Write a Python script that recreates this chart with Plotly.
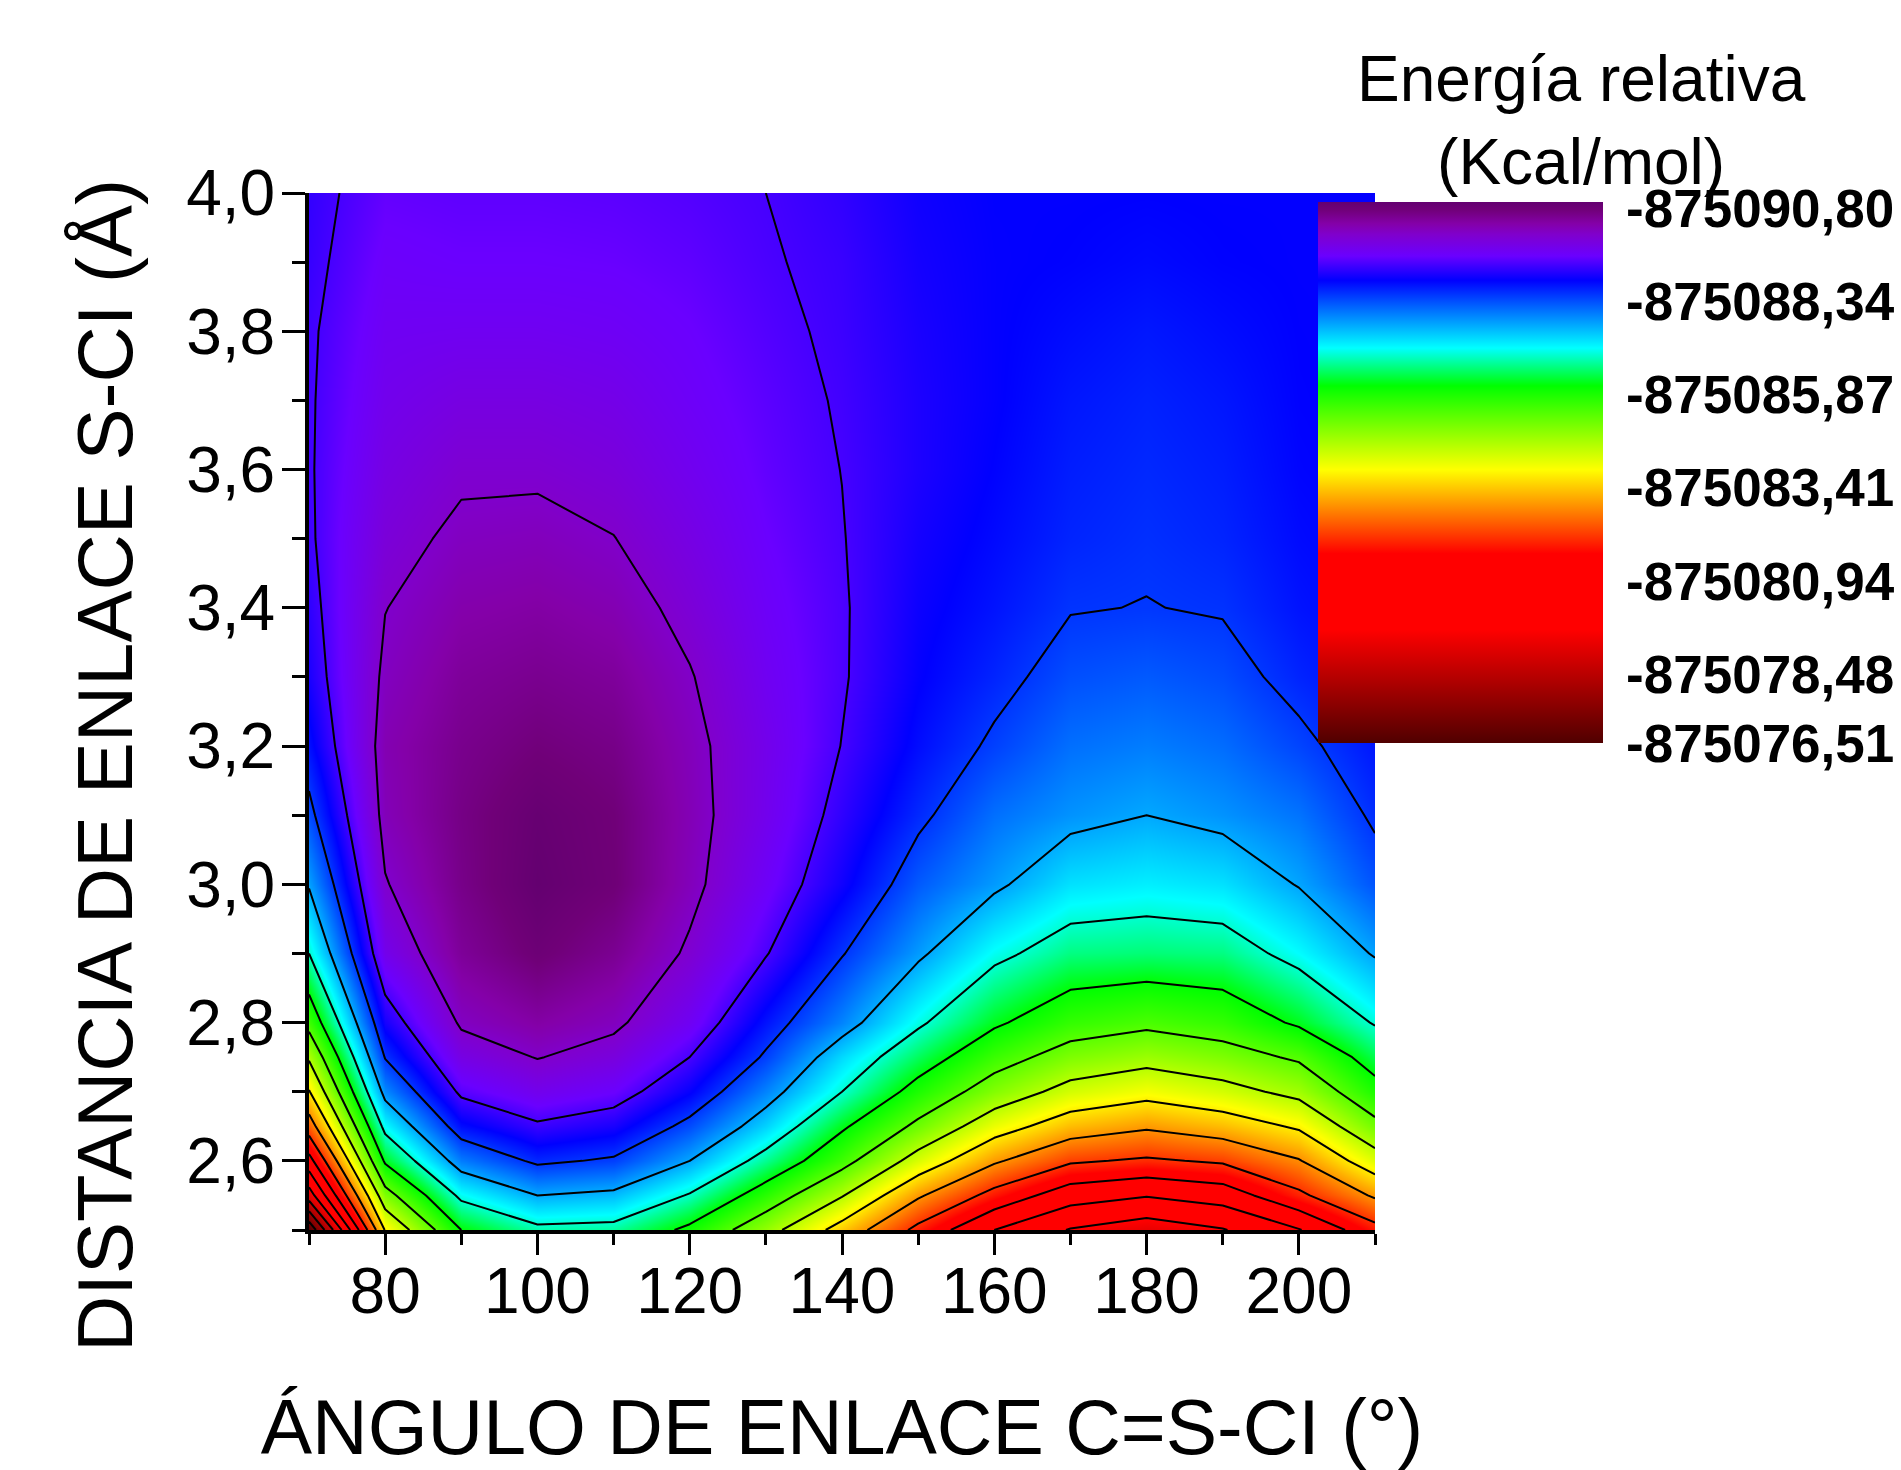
import plotly.graph_objects as go

# Axes of the grid
angles = [70, 80, 90, 100, 110, 120, 130, 140, 150, 160, 170, 180, 190, 200, 210]
distances = [2.5, 2.55, 2.6, 2.65, 2.7, 2.75, 2.8, 2.9, 3.0, 3.1, 3.2, 3.3, 3.4, 3.5, 3.6, 3.7, 3.8, 3.9, 4.0]

# Energy above the minimum (kcal/mol), one list per angle
e_70 = [14.29, 11.65, 9.95, 8.45, 7.3, 6.35, 5.4, 4.05, 3.2, 2.6, 2.17, 1.92, 1.8, 1.71, 1.69, 1.69, 1.7, 1.745, 1.77]
e_80 = [7.2, 5.95, 4.75, 3.85, 3.05, 2.42, 1.95, 1.2, .88, .7, .65, .76, .86, 1.0, 1.12, 1.22, 1.3, 1.38, 1.47]
e_90 = [4.85, 3.9, 2.95, 2.15, 1.55, 1.12, .78, .45, .33, .3, .36, .46, .6, .76, .92, 1.1, 1.28, 1.42, 1.5]
e_100 = [4.2, 3.25, 2.35, 1.72, 1.22, .83, .55, .15, 0, .05, .22, .38, .54, .72, .92, 1.1, 1.28, 1.42, 1.5]
e_110 = [4.25, 3.38, 2.52, 1.92, 1.42, 1.05, .75, .4, .18, .2, .32, .47, .65, .84, 1.02, 1.17, 1.32, 1.44, 1.52]
e_120 = [5.0, 4.1, 3.25, 2.6, 2.05, 1.65, 1.3, .92, .72, .68, .72, .82, .98, 1.12, 1.25, 1.35, 1.42, 1.5, 1.57]
e_130 = [6.15, 5.2, 4.3, 3.55, 3.0, 2.52, 2.2, 1.62, 1.35, 1.22, 1.2, 1.28, 1.35, 1.42, 1.48, 1.52, 1.57, 1.62, 1.65]
e_140 = [7.55, 6.4, 5.4, 4.75, 4.05, 3.6, 3.0, 2.42, 1.98, 1.79, 1.66, 1.61, 1.61, 1.634, 1.655, 1.68, 1.71, 1.73, 1.78]
e_150 = [9.05, 7.95, 6.75, 5.8, 5.1, 4.5, 3.95, 3.15, 2.7, 2.35, 2.15, 2.05, 2.0, 1.95, 1.9, 1.9, 1.92, 1.95, 1.98]
e_160 = [10.45, 9.1, 7.95, 6.9, 6.0, 5.35, 4.75, 3.9, 3.15, 2.85, 2.52, 2.32, 2.2, 2.13, 2.08, 2.05, 2.05, 2.05, 2.06]
e_170 = [11.3, 10.1, 8.75, 7.65, 6.7, 5.95, 5.3, 4.35, 3.65, 3.1, 2.85, 2.62, 2.43, 2.32, 2.27, 2.22, 2.15, 2.08, 2.06]
e_180 = [11.7, 10.4, 8.95, 7.95, 7.0, 6.2, 5.5, 4.4, 3.75, 3.25, 2.95, 2.7, 2.46, 2.4, 2.35, 2.3, 2.23, 2.13, 2.07]
e_190 = [11.3, 10.1, 8.75, 7.65, 6.7, 5.95, 5.3, 4.35, 3.65, 3.1, 2.83, 2.6, 2.42, 2.32, 2.27, 2.22, 2.15, 2.08, 2.06]
e_200 = [10.5, 9.0, 8.1, 7.15, 6.25, 5.55, 4.75, 3.85, 3.22, 2.88, 2.55, 2.32, 2.2, 2.14, 2.1, 2.08, 2.07, 2.06, 2.06]
e_210 = [9.1, 7.95, 6.8, 5.85, 5.1, 4.55, 4.0, 3.2, 2.65, 2.38, 2.22, 2.12, 2.08, 2.06, 2.05, 2.05, 2.05, 2.05, 2.05]
columns = [e_70, e_80, e_90, e_100, e_110, e_120, e_130, e_140, e_150, e_160, e_170, e_180, e_190, e_200, e_210]

# Colour bar labels (magnitude of the total energy)
bar_values = [875090.80, 875088.34, 875085.87, 875083.41, 875080.94, 875078.48, 875076.51]
bar_labels = ["-875090,80", "-875088,34", "-875085,87", "-875083,41", "-875080,94", "-875078,48", "-875076,51"]

TOP = 875090.80
SPAN = 14.29
LABEL_NUDGE = 0.16  # labels sit a little below their value in the reference
BOTTOM = TOP - SPAN
z = [[TOP - columns[c][r] for c in range(len(angles))] for r in range(len(distances))]

# e/SPAN position of each colour, from the colour bar (top of bar = 0)
stops = [(0.0, "#640070"), (0.014, "#700078"), (0.027, "#7a0090"), (0.04, "#8400a8"), (0.06, "#8000cc"),
         (0.10, "#6a00ff"), (0.145, "#0000ff"), (0.27, "#00ffff"),
         (0.34, "#00ff00"), (0.495, "#ffff00"), (0.65, "#ff0000"), (0.79, "#ff0000"), (1.0, "#500000")]
colorscale = sorted((1 - p, c) for p, c in stops)

W, H = 1901, 1470
L, R, T, B = 309, 1375, 193, 1230
px = lambda v: (v - L) / (R - L)
py = lambda v: (B - v) / (B - T)

fill = go.Contour(
    x=angles, y=distances, z=z, zmin=BOTTOM, zmax=TOP, colorscale=colorscale,
    contours=dict(coloring="heatmap", showlines=False, start=TOP - 13.65, end=TOP - 0.85, size=0.8),
    line=dict(width=0),
    colorbar=dict(
        x=px(1318), xanchor="left", xpad=0, y=py(202), yanchor="top", ypad=0,
        len=541, lenmode="pixels", thickness=285, thicknessmode="pixels",
        tickmode="array", tickvals=[max(v - LABEL_NUDGE, BOTTOM + 0.001) for v in bar_values], ticktext=bar_labels,
        ticks="outside", ticklen=13, tickcolor="rgba(0,0,0,0)",
        tickfont=dict(family="Liberation Sans", size=53, color="black", weight="bold"),
        outlinewidth=0, borderwidth=0,
    ),
)
lines = go.Contour(
    x=angles, y=distances, z=z, showscale=False,
    contours=dict(coloring="none", start=TOP - 13.65, end=TOP - 0.85, size=0.8),
    line=dict(color="black", width=2, smoothing=0),
)

fig = go.Figure([fill, lines])
font = "Liberation Sans"
fig.update_layout(
    width=W, height=H, autosize=False,
    margin=dict(l=L, r=W - R, t=T, b=H - B, autoexpand=False),
    paper_bgcolor="white", plot_bgcolor="white", separators=",.",
    font=dict(family=font, color="black"),
    showlegend=False,
    xaxis=dict(
        range=[70, 210], tick0=80, dtick=20, ticks="outside", ticklen=21, tickwidth=3,
        tickcolor="black", showline=True, linewidth=4, linecolor="black", showgrid=False, zeroline=False,
        tickfont=dict(size=64), ticklabelstandoff=-19,
        minor=dict(tick0=70, dtick=10, ticks="outside", ticklen=11, tickwidth=3, tickcolor="black", showgrid=False),
        title=dict(text="ÁNGULO DE ENLACE C=S-CI (°)", font=dict(size=77), standoff=78),
    ),
    yaxis=dict(
        range=[2.5, 4.0], tick0=2.6, dtick=0.2, tickformat=".1f", ticks="outside", ticklen=23, tickwidth=3,
        tickcolor="black", showline=True, linewidth=4, linecolor="black", showgrid=False, zeroline=False,
        tickfont=dict(size=64), ticklabelstandoff=-6,
        minor=dict(tick0=2.5, dtick=0.1, ticks="outside", ticklen=13, tickwidth=3, tickcolor="black", showgrid=False),
    ),
    annotations=[
        dict(text="DISTANCIA DE ENLACE S-CI (Å)", textangle=-90, showarrow=False, xref="paper", yref="paper",
             x=px(105), y=py(766), xanchor="center", yanchor="middle", font=dict(size=78)),
        dict(text="Energía relativa<br>(Kcal/mol)", showarrow=False, xref="paper", yref="paper",
             x=px(1581), y=py(121), xanchor="center", yanchor="middle", align="center", font=dict(size=64)),
    ],
)
fig.write_html("out.html", config=dict(displayModeBar=False),
               post_script="document.body.style.margin='0';document.documentElement.style.overflow='hidden';")
